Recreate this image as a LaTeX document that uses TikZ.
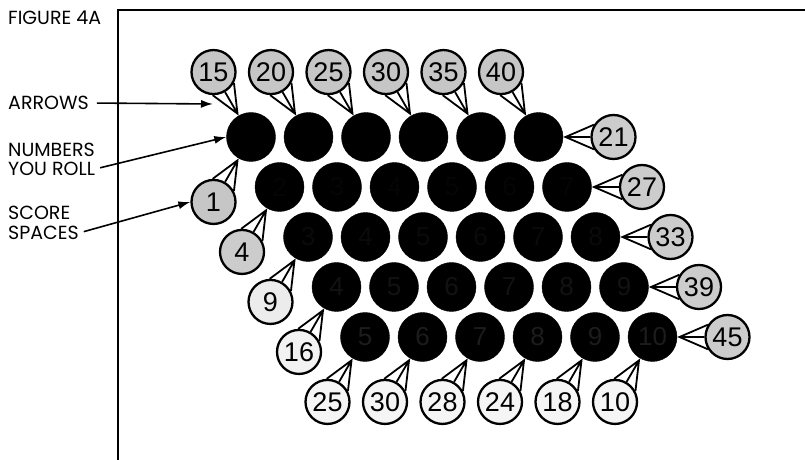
\documentclass[tikz,border=0pt]{standalone}
\usepackage{fontspec}
\setmainfont{Liberation Sans}
\newfontfamily\labelfont{Poppins}
\usetikzlibrary{arrows.meta}

\tikzset{
  roll/.style={circle, fill=black, draw=black, minimum size=49pt, inner sep=0pt,
    font=\fontsize{26}{26}\selectfont},
  score/.style={circle, draw=black, line width=2.3pt, minimum size=44pt, inner sep=0pt,
    font=\fontsize{27}{27}\selectfont},
  tail/.style={line width=1.8pt, line join=miter},
  pointer/.style={line width=1.6pt, -{Latex[length=12pt,width=8pt]}},
  caption/.style={font=\labelfont\fontsize{19}{19}\selectfont, anchor=west, inner sep=0pt}
}

\begin{document}
\begin{tikzpicture}[x=1pt,y=1pt]
  \useasboundingbox (0,0) rectangle (805,460);
  \draw[line width=2pt] (118,0) -- (118,450) -- (805,450);

  % board of numbers you roll
  \foreach \r/\tone in {0/100,1/98,2/96,3/93,4/89}
    \foreach \c in {0,...,5} {
      \pgfmathtruncatemacro\num{\r+\c+1}
      \node[roll, text=black!\tone!white] (b\r\c) at (251+57.5*\c+28.5*\r, 323-50*\r) {\num};
    }

  % score spaces, top
  \foreach \c/\v in {0/15,1/20,2/25,3/30,4/35,5/40} {
    \node[score, fill=gray!45] (t\c) at ([shift={(120:75)}]b0\c.center) {\v};
    \coordinate (tt\c) at ([shift={(120:27)}]b0\c.center);
    \draw[tail] (t\c.-28) -- (tt\c) -- (t\c.-92) (tt\c) -- (t\c.-60);
  }
  % right
  \foreach \r/\v in {0/21,1/27,2/33,3/39,4/45} {
    \node[score, fill=gray!40] (r\r) at ([shift={(0:75)}]b\r5.center) {\v};
    \coordinate (rt\r) at ([shift={(0:27)}]b\r5.center);
    \draw[tail] (r\r.148) -- (rt\r) -- (r\r.212) (rt\r) -- (r\r.180);
  }
  % left
  \foreach \r/\v/\g in {0/1/45,1/4/40,2/9/15,3/16/10} {
    \node[score, fill=gray!\g] (l\r) at ([shift={(240:75)}]b\r0.center) {\v};
    \coordinate (lt\r) at ([shift={(240:27)}]b\r0.center);
    \draw[tail] (l\r.28) -- (lt\r) -- (l\r.92) (lt\r) -- (l\r.60);
  }
  % bottom
  \foreach \c/\v in {0/25,1/30,2/28,3/24,4/18,5/10} {
    \node[score, fill=gray!8] (d\c) at ([shift={(240:75)}]b4\c.center) {\v};
    \coordinate (dt\c) at ([shift={(240:27)}]b4\c.center);
    \draw[tail] (d\c.28) -- (dt\c) -- (d\c.92) (dt\c) -- (d\c.60);
  }

  % captions
  \node[caption] (fig) at (8,442) {FIGURE 4A};
  \node[caption] (arw) at (8,357) {ARROWS};
  \node[caption] (num) at (8,310) {NUMBERS};
  \node[caption] (you) at (8,291) {YOU ROLL};
  \node[caption] (sco) at (8,247) {SCORE};
  \node[caption] (spa) at (8,227) {SPACES};
  \coordinate (arwend) at (213,356);
  \draw[pointer, shorten <=8pt] (arw.east) -- (arwend);
  \draw[pointer, shorten <=5pt] (you.east) -- (b00.west);
  \draw[pointer, shorten <=5pt] (spa.east) -- (l0.west);
\end{tikzpicture}
\end{document}
